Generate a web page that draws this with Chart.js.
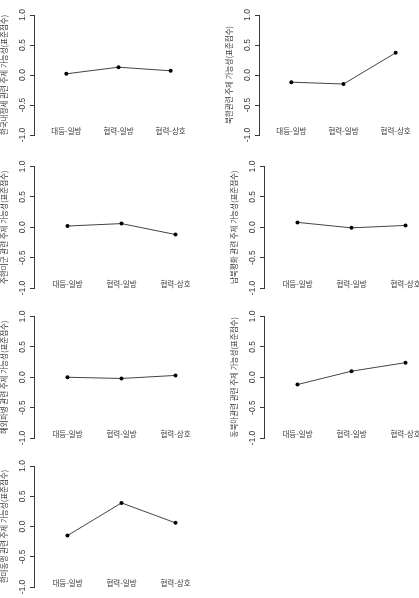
<!DOCTYPE html>
<html>
<head>
<meta charset="utf-8">
<script src="https://cdn.jsdelivr.net/npm/chart.js@4"></script>
<style>
  html, body { margin: 0; padding: 0; background: #fff; }
  body { position: relative; width: 419px; height: 598px; overflow: hidden; }
  canvas { position: absolute; }
</style>
</head>
<body>
<script>
// ---- data ----
const categories = ['대등-일방', '협력-일방', '협력-상호'];
const yTicks = [-1.0, -0.5, 0.0, 0.5, 1.0];

const titles = [
  '한국내정세 관련 주제 가능성(표준점수)',
  '북한관련 주제 가능성(표준점수)',
  '주한미군 관련 주제 가능성(표준점수)',
  '남북평화 관련 주제 가능성(표준점수)',
  '해외파병 관련 주제 가능성(표준점수)',
  '동북아관련 관련 주제 가능성(표준점수)',
  '한미동맹 관련 주제 가능성(표준점수)'
];

const domestic   = [0.02, 0.13, 0.07];
const northKorea = [-0.12, -0.15, 0.37];
const usfk       = [0.02, 0.06, -0.12];
const interKorea = [0.08, -0.01, 0.03];
const dispatch   = [0.00, -0.02, 0.03];
const northeast  = [-0.12, 0.10, 0.24];
const alliance   = [-0.15, 0.39, 0.06];

const series = [domestic, northKorea, usfk, interKorea, dispatch, northeast, alliance];

// ---- panel placement (canvas box + plot area) ----
const panels = [
  { left: 0,   top: 0,   plotW: 169, plotTop: 15,   plotH: 120 },
  { left: 225, top: 0,   plotW: 169, plotTop: 15,   plotH: 120 },
  { left: 0,   top: 150, plotW: 175, plotTop: 16.5, plotH: 121.5 },
  { left: 230, top: 150, plotW: 175, plotTop: 16.5, plotH: 121.5 },
  { left: 0,   top: 300, plotW: 175, plotTop: 16.5, plotH: 121.5 },
  { left: 230, top: 300, plotW: 175, plotTop: 16.5, plotH: 121.5 },
  { left: 0,   top: 450, plotW: 175, plotTop: 16,   plotH: 121 }
];

const AXIS_W = 34;
const INK = '#3a3a3a';

// rotated y tick labels (R style) + category labels sitting just above the -1 line
const axisText = {
  id: 'axisText',
  afterDraw(chart) {
    const sy = chart.scales.y;
    const sx = chart.scales.x;
    const ctx = chart.ctx;
    ctx.save();
    ctx.fillStyle = INK;
    ctx.textAlign = 'center';
    ctx.textBaseline = 'middle';
    ctx.font = '8.5px "Liberation Sans", Arial, sans-serif';
    yTicks.forEach(v => {
      ctx.save();
      ctx.translate(chart.chartArea.left - 11, sy.getPixelForValue(v));
      ctx.rotate(-Math.PI / 2);
      ctx.fillText(v.toFixed(1), 0, 0);
      ctx.restore();
    });
    ctx.font = '7.5px "Noto Sans CJK KR", sans-serif';
    categories.forEach((c, k) => {
      ctx.fillText(c, sx.getPixelForValue(k + 1), sy.getPixelForValue(-1) - 3.5);
    });
    ctx.restore();
  }
};

function makePanel(i) {
  const p = panels[i];
  const canvas = document.createElement('canvas');
  const w = AXIS_W + p.plotW + 8;
  const h = Math.round(p.plotTop + p.plotH + 14);
  canvas.width = w;
  canvas.height = h;
  canvas.style.left = p.left + 'px';
  canvas.style.top = p.top + 'px';
  canvas.style.width = w + 'px';
  canvas.style.height = h + 'px';
  document.body.appendChild(canvas);

  new Chart(canvas, {
    type: 'line',
    data: {
      datasets: [{
        data: series[i].map((v, k) => ({ x: k + 1, y: v })),
        borderColor: '#444',
        borderWidth: 1,
        pointRadius: 2,
        pointBackgroundColor: '#000',
        pointBorderColor: '#000',
        pointBorderWidth: 0,
        tension: 0,
        fill: false
      }]
    },
    options: {
      responsive: false,
      animation: false,
      events: [],
      layout: { padding: { top: p.plotTop, right: 8, bottom: 0, left: 0 } },
      plugins: { legend: { display: false }, tooltip: { enabled: false } },
      scales: {
        x: {
          type: 'linear',
          min: 0.38, max: 3.62,
          afterFit: s => { s.height = 14; },
          ticks: { display: false },
          grid: { display: false, drawTicks: false },
          border: { display: false }
        },
        y: {
          min: -1, max: 1,
          afterBuildTicks: s => { s.ticks = yTicks.map(v => ({ value: v })); },
          afterFit: s => { s.width = AXIS_W; },
          ticks: { display: false },
          grid: { drawOnChartArea: false, drawTicks: true, tickLength: 4, color: INK, lineWidth: 1 },
          border: { display: true, color: INK, width: 1 },
          title: {
            display: true,
            text: titles[i],
            color: INK,
            padding: 0,
            font: { family: '"Noto Sans CJK KR", sans-serif', size: 7.5 }
          }
        }
      }
    },
    plugins: [axisText]
  });
}

series.forEach((_, i) => makePanel(i));
</script>
</body>
</html>
